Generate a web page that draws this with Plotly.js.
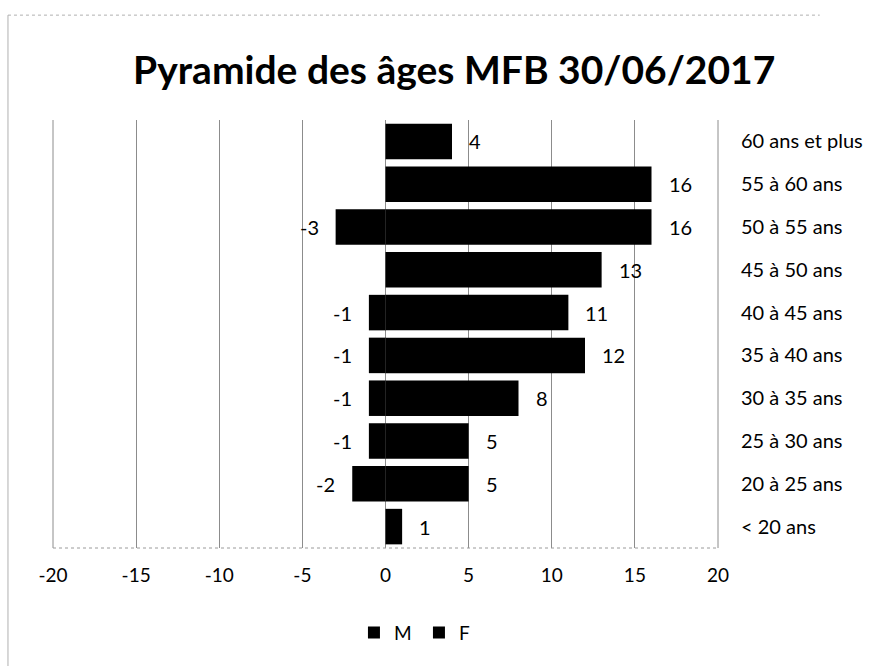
<!DOCTYPE html>
<html>
<head>
<meta charset="utf-8">
<script src="https://cdn.plot.ly/plotly-3.0.1.min.js"></script>
<style>html,body{margin:0;padding:0;background:#fff;}#chart{width:882px;height:666px;}</style>
</head>
<body>
<div id="chart"></div>
<script>
const categories = ["< 20 ans","20 à 25 ans","25 à 30 ans","30 à 35 ans","35 à 40 ans","40 à 45 ans","45 à 50 ans","50 à 55 ans","55 à 60 ans","60 ans et plus"];
const valuesM = [0,-2,-1,-1,-1,-1,0,-3,0,0];
const valuesF = [1,5,5,8,12,11,13,16,16,4];
const xTicks = [-20,-15,-10,-5,0,5,10,15,20];

const FONT = "Lato, 'Open Sans', sans-serif";
const traceM = {type:'bar', orientation:'h', name:'M', y:categories, x:valuesM,
  marker:{color:'#000000'}, hoverinfo:'x+y'};
const traceF = {type:'bar', orientation:'h', name:'F', y:categories, x:valuesF,
  marker:{color:'#000000'}, hoverinfo:'x+y'};

const annotations = [];
valuesF.forEach((v,i)=>{ if(v!==0) annotations.push({x:v,y:categories[i],xref:'x',yref:'y',text:String(v),showarrow:false,xanchor:'left',xshift:15,font:{size:20,color:'#000',family:FONT}}); });
valuesM.forEach((v,i)=>{ if(v!==0) annotations.push({x:v,y:categories[i],xref:'x',yref:'y',text:String(v),showarrow:false,xanchor:'right',xshift:-15,font:{size:20,color:'#000',family:FONT}}); });

const layout = {
  width:882, height:666,
  margin:{l:53, r:164, t:120, b:118},
  paper_bgcolor:'#fff', plot_bgcolor:'#fff',
  font:{family:FONT, size:19, color:'#000'},
  title:{text:'<b>Pyramide des âges MFB 30/06/2017</b>', font:{size:39, family:FONT, color:'#000'}, x:0.515, xanchor:'center', y:0.895, yanchor:'middle', yref:'container'},
  barmode:'relative', bargap:0.17,
  showlegend:true,
  legend:{orientation:'h', x:0.475, xanchor:'center', xref:'container', y:0.05, yref:'container', yanchor:'middle', font:{size:19, family:FONT}, itemwidth:30, entrywidth:20, traceorder:'normal'},
  xaxis:{range:[-20,20], tickvals:xTicks, ticktext:xTicks.map(String), showgrid:true, gridcolor:'#8c8c8c', gridwidth:1, zeroline:false, showline:false, ticks:'', ticklabelstandoff:14, tickfont:{size:19}, fixedrange:true},
  yaxis:{type:'category', categoryorder:'array', categoryarray:categories, side:'right', showgrid:false, zeroline:false, showline:false, ticks:'', ticklabelstandoff:22, tickfont:{size:20}, fixedrange:true},
  annotations:annotations,
  shapes:[
    {type:'line', xref:'paper', yref:'paper', x0:1, x1:1, y0:0, y1:1, line:{color:'#8c8c8c', width:1}},
    {type:'line', xref:'paper', yref:'paper', x0:0, x1:0, y0:0, y1:1, line:{color:'#8c8c8c', width:1}},
    {type:'line', xref:'paper', yref:'paper', x0:0, x1:1, y0:0, y1:0, line:{color:'#9a9a9a', width:1, dash:'dot'}},
    {type:'line', xref:'paper', yref:'paper', x0:-0.0677, x1:-0.0677, y0:-0.3, y1:1.245, line:{color:'#b0b0b0', width:1}},
    {type:'line', xref:'paper', yref:'paper', x0:-0.0677, x1:1.153, y0:1.245, y1:1.245, line:{color:'#b0b0b0', width:1, dash:'dot'}}
  ]
};
Plotly.newPlot('chart',[traceM,traceF],layout,{displayModeBar:false, staticPlot:true});
</script>
</body>
</html>
